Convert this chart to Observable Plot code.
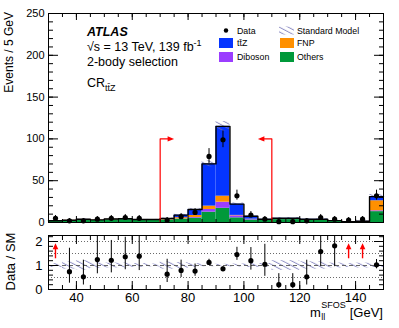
<!DOCTYPE html>
<html><head><meta charset="utf-8">
<script src="https://cdn.jsdelivr.net/npm/d3@7"></script>
<script src="https://cdn.jsdelivr.net/npm/@observablehq/plot@0.6"></script>
<style>
body{margin:0;background:#fff;}
#chart{position:relative;width:399px;height:328px;font-family:"Liberation Sans",Arial,Helvetica,sans-serif;}
#chart svg{position:absolute;left:0;overflow:visible;}
</style></head><body><div id="chart"></div>
<script>
// ---------- data ----------
const binLow  = [30,35,40,45,50,55,60,65,70,75,80,85,90,95,100,105,110,115,120,125,130,135,140,145];
const binWidth = 5;
const others  = [1.6,2.2,2.5,2.5,3.2,3.5,2.8,2.5,3.0,4.0,5.2,12.4,17.0,5.6,3.0,2.6,3.5,3.5,2.8,2.8,1.5,0.7,1.0,13.0];
const diboson = [0.1,0.1,0.2,0.2,0.2,0.2,0.1,0.1,0.2,0.3,0.8,3.2,7.3,2.4,0.6,0.3,0.2,0.2,0.1,0.1,0.1,0.05,0.1,1.0];
const fnp     = [0.3,0.3,1.0,0.4,0.5,0.5,0.5,0.6,1.0,1.5,2.4,4.0,7.2,0.5,0.4,0.4,0.8,0.8,0.5,0.5,0.3,0.1,0.2,12.0];
const ttz     = [0.1,0.1,0.1,0.1,0.2,0.2,0.2,0.3,0.5,3.0,7.2,50.5,83.5,13.5,3.5,0.5,0.5,0.5,0.4,0.4,0.3,0.2,0.2,5.0];
const smRelUnc = [0.08,0.15,0.2,0.12,0.1,0.1,0.08,0.06,0.15,0.12,0.08,0.05,0.05,0.06,0.08,0.08,0.2,0.2,0.15,0.15,0.1,0.08,0.1,0.08];
const dataCounts = [5,2,2,4,5,6,5,0,3,7,12,79,99,32,9,4,1,1,2,6,4,3,4,32];
const dataLow  = [2.84,0.71,0.71,2.09,2.84,3.62,2.84,0,1.37,4.42,8.61,70.6,89.5,26.7,6.06,2.09,0.17,0.17,0.71,3.62,2.09,1.37,2.09,26.7];
const dataHigh = [8.38,4.64,4.64,7.16,8.38,9.58,8.38,1.84,5.92,10.77,16.57,88.4,109.5,38.7,13.11,7.16,3.30,3.30,4.64,9.58,7.16,5.92,7.16,38.7];

const processes = ["Others","Diboson","FNP","ttZ"];           // stacking order, bottom to top
const processColors = ["#00993a","#9b3dff","#ff9000","#0535ff"];
const processValues = [others, diboson, fnp, ttz];

const legendLeft  = ["Data","tt\u0304Z","Diboson"];
const legendRight = ["Standard Model","FNP","Others"];

const cutPositions = [70,110];
const cutDirections = [1,-1];
const cutHeight = 100;
const cutArrowLength = 5;

const xDomain = [30,150];
const yDomain = [0,250];
const ratioDomain = [0,2.25];
const xMajor = [40,60,80,100,120,140];
const xMinor = [30,35,40,45,50,55,60,65,70,75,80,85,90,95,100,105,110,115,120,125,130,135,140,145,150];
const yMajor = [0,50,100,150,200,250];
const yMinor = d3.range(0,251,10);
const ratioMajor = [0,1,2];
const ratioMinor = d3.range(0,2.21,0.2);
const ratioGrid = [0.5,1.5,2];
const ratioArrowSpan = [1.28,1.93];

const FONT = '"Liberation Sans",Arial,Helvetica,sans-serif';

// ---------- derived tables ----------
const stackRows = [];
const totals = binLow.map((x,i)=>{
  let acc = 0;
  processes.forEach((p,k)=>{
    const v = processValues[k][i];
    stackRows.push({x1:x, x2:x+binWidth, y1:acc, y2:acc+v, proc:p});
    acc += v;
  });
  return acc;
});
const bandRows = binLow.map((x,i)=>({x1:x, x2:x+binWidth, lo:totals[i]*(1-smRelUnc[i]), hi:totals[i]*(1+smRelUnc[i]), rlo:1-smRelUnc[i], rhi:1+smRelUnc[i]}));
const outline = binLow.map((x,i)=>({x, y:totals[i]})).concat([{x:binLow[binLow.length-1]+binWidth, y:totals[totals.length-1]}]);
const dataRows = binLow.map((x,i)=>({x:x+binWidth/2, n:dataCounts[i], lo:dataLow[i], hi:dataHigh[i],
  r:dataCounts[i]/totals[i], rlo:dataLow[i]/totals[i], rhi:dataHigh[i]/totals[i]})).filter(d=>d.n>0);
const ratioPts = dataRows.filter(d=>d.r<=ratioDomain[1]);
const ratioArrows = dataRows.filter(d=>d.r>ratioDomain[1]);

// triangle symbol: tip at origin, pointing along angle (deg, screen coords)
function arrowHead(angle, len=6.5, half=2.6){
  const a = angle*Math.PI/180, c=Math.cos(a), s=Math.sin(a);
  const pts = [[0,0],[-len,-half],[-len,half]].map(([x,y])=>[x*c-y*s, x*s+y*c]);
  return {draw(ctx){ctx.moveTo(...pts[0]); ctx.lineTo(...pts[1]); ctx.lineTo(...pts[2]); ctx.closePath();}};
}

const chart = document.getElementById("chart");
// hatch pattern
const defsSvg = d3.select(chart).append("svg").attr("width",0).attr("height",0).style("top","0px");
const pat = defsSvg.append("defs").append("pattern").attr("id","hatch")
  .attr("patternUnits","userSpaceOnUse").attr("width",8).attr("height",4.2).attr("patternTransform","rotate(28)");
pat.append("line").attr("x1",0).attr("y1",2).attr("x2",8).attr("y2",2).attr("stroke","#6e6eb4").attr("stroke-width",0.8);

function axesMarks(majorY, minorY, yMajLen, yMinLen, xMajLen, xMinLen){
  return [
    Plot.axisY(majorY, {anchor:"left", tickSize:-yMajLen, fill:"none", label:null}),
    Plot.axisY(minorY, {anchor:"left", tickSize:-yMinLen, fill:"none", label:null}),
    Plot.axisY(majorY, {anchor:"right", tickSize:-yMajLen, fill:"none", label:null}),
    Plot.axisY(minorY, {anchor:"right", tickSize:-yMinLen, fill:"none", label:null}),
    Plot.axisX(xMajor, {anchor:"bottom", tickSize:-xMajLen, fill:"none", label:null}),
    Plot.axisX(xMinor, {anchor:"bottom", tickSize:-xMinLen, fill:"none", label:null}),
    Plot.axisX(xMajor, {anchor:"top", tickSize:-xMajLen, fill:"none", label:null}),
    Plot.axisX(xMinor, {anchor:"top", tickSize:-xMinLen, fill:"none", label:null})
  ];
}

// ---------- main panel ----------
const cutMarks = cutPositions.flatMap((c,i)=>{
  const tip = c + cutDirections[i]*cutArrowLength;
  const pts = [{x:c,y:0},{x:c,y:cutHeight},{x:tip - cutDirections[i]*1.5,y:cutHeight}];
  return [
    Plot.line(pts, {x:"x", y:"y", stroke:"#ff0000", strokeWidth:1.2}),
    Plot.dot([{x:tip,y:cutHeight}], {x:"x", y:"y", symbol:arrowHead(cutDirections[i]>0?0:180), r:3, fill:"#ff0000", stroke:"none"})
  ];
});

const main = Plot.plot({
  width:399, height:232, marginLeft:48, marginRight:16, marginTop:13, marginBottom:10,
  x:{domain:xDomain}, y:{domain:yDomain},
  color:{domain:processes, range:processColors},
  style:{fontFamily:FONT, fontSize:"11px", color:"black", background:"transparent", overflow:"visible"},
  marks:[
    Plot.rect(stackRows, {x1:"x1", x2:"x2", y1:"y1", y2:"y2", fill:"proc"}),
    Plot.rect(bandRows, {x1:"x1", x2:"x2", y1:"lo", y2:"hi", fill:"url(#hatch)"}),
    Plot.line(outline, {x:"x", y:"y", curve:"step-after", stroke:"black", strokeWidth:1.4}),
    ...cutMarks,
    Plot.ruleX(dataRows, {x:"x", y1:"lo", y2:"hi", stroke:"black", strokeWidth:1}),
    Plot.dot(dataRows, {x:"x", y:"n", r:2.6, fill:"black", stroke:"none"}),
    Plot.axisY(yMajor, {anchor:"left", tickSize:0, tickPadding:4, fontSize:11, label:null}),
    ...axesMarks(yMajor, yMinor, 10, 5, 6, 3),
    Plot.frame({stroke:"black", strokeWidth:1})
  ]
});
main.style.top = "0px";
chart.appendChild(main);

// ---------- ratio panel ----------
const ratio = Plot.plot({
  width:399, height:96, marginLeft:48, marginRight:16, marginTop:3, marginBottom:39,
  x:{domain:xDomain}, y:{domain:ratioDomain},
  style:{fontFamily:FONT, fontSize:"13px", color:"black", background:"transparent", overflow:"visible"},
  marks:[
    Plot.ruleY(ratioGrid, {stroke:"#444", strokeDasharray:"1,2", strokeWidth:0.8}),
    Plot.rect(bandRows, {x1:"x1", x2:"x2", y1:"rlo", y2:"rhi", fill:"url(#hatch)"}),
    Plot.ruleY([1], {stroke:"#555", strokeDasharray:"4,3", strokeWidth:0.9}),
    Plot.ruleX(ratioPts, {x:"x", y1:"rlo", y2:d=>Math.min(d.rhi, ratioDomain[1]), stroke:"black", strokeWidth:1}),
    Plot.dot(ratioPts, {x:"x", y:"r", r:2.6, fill:"black", stroke:"none"}),
    Plot.ruleX(ratioArrows, {x:"x", y1:()=>ratioArrowSpan[0], y2:()=>ratioArrowSpan[1]-0.15, stroke:"#ff0000", strokeWidth:1.4}),
    Plot.dot(ratioArrows, {x:"x", y:()=>ratioArrowSpan[1], symbol:arrowHead(-90,6,2.8), r:3, fill:"#ff0000", stroke:"none"}),
    Plot.axisY(ratioMajor, {anchor:"left", tickSize:0, tickPadding:6, fontSize:13, label:null}),
    Plot.axisX(xMajor, {anchor:"bottom", tickSize:0, tickPadding:3, fontSize:13, label:null}),
    ...axesMarks(ratioMajor, ratioMinor, 10, 5, 8, 4),
    Plot.frame({stroke:"black", strokeWidth:1})
  ]
});
ratio.style.top = "232px";
chart.appendChild(ratio);

// ---------- annotations ----------
const ms = d3.select(main);
const g = ms.append("g").attr("font-family", FONT).attr("fill","black").attr("text-anchor","start");
g.append("text").attr("transform","translate(13,12) rotate(-90)").attr("text-anchor","end").attr("font-size",12).text("Events / 5 GeV");
g.append("text").attr("x",87).attr("y",36).attr("font-size",12.5).attr("font-weight","bold").attr("font-style","italic").text("ATLAS");
const t2 = g.append("text").attr("x",87).attr("y",50.5).attr("font-size",12.5);
t2.append("tspan").text("\u221As = 13 TeV, 139 fb");
t2.append("tspan").attr("dy",-4.5).attr("font-size",9).text("-1");
g.append("text").attr("x",87).attr("y",66).attr("font-size",12.5).text("2-body selection");
const t4 = g.append("text").attr("x",87).attr("y",87).attr("font-size",12.5);
t4.append("tspan").text("CR");
t4.append("tspan").attr("dy",3.5).attr("font-size",9).text("tt\u0304Z");

// legend
const lg = g.append("g").attr("font-size",8.8);
const rowY = [30.5, 43, 57];
legendLeft.forEach((lab,i)=>{
  if(i===0){
    lg.append("circle").attr("cx",226).attr("cy",rowY[i]).attr("r",2.2).attr("fill","black");
  } else {
    const p = i===1 ? "ttZ" : "Diboson";
    lg.append("rect").attr("x",219).attr("y",rowY[i]-5).attr("width",14).attr("height",10).attr("fill",processColors[processes.indexOf(p)]);
  }
  lg.append("text").attr("x",237).attr("y",rowY[i]+3.2).text(lab);
});
legendRight.forEach((lab,i)=>{
  if(i===0){
    lg.append("rect").attr("x",279).attr("y",rowY[i]-4).attr("width",15).attr("height",8).attr("fill","url(#hatch)");
  } else {
    lg.append("rect").attr("x",280).attr("y",rowY[i]-5).attr("width",14).attr("height",10).attr("fill",processColors[processes.indexOf(lab)]);
  }
  lg.append("text").attr("x",297).attr("y",rowY[i]+3.2).text(lab);
});

// ratio annotations
const rs = d3.select(ratio);
const rg = rs.append("g").attr("font-family",FONT).attr("fill","black").attr("text-anchor","start");
rg.append("text").attr("transform","translate(15,29.5) rotate(-90)").attr("text-anchor","middle").attr("font-size",13).text("Data / SM");
// x title: m_ll^SFOS [GeV], right aligned at frame edge
const xt = rg.append("g");
const gev = xt.append("text").attr("x",383).attr("y",85).attr("text-anchor","end").attr("font-size",13).text("[GeV]");
const gevW = gev.node().getComputedTextLength();
const sup = xt.append("text").attr("y",76).attr("font-size",9).text("SFOS");
const supW = sup.node().getComputedTextLength();
const sfosX = 383 - gevW - 4 - supW;
sup.attr("x", sfosX);
xt.append("text").attr("x",sfosX).attr("y",88).attr("font-size",9).text("ll");
xt.append("text").attr("x",sfosX-0.5).attr("y",85).attr("text-anchor","end").attr("font-size",13).text("m");
</script></body></html>
